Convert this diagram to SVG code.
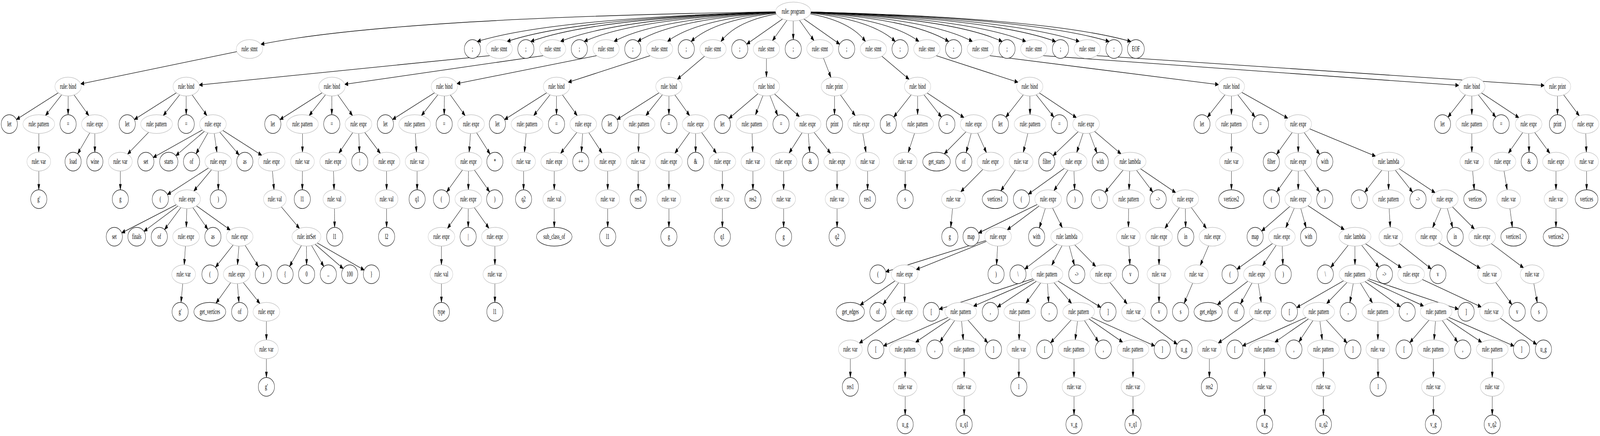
<svg xmlns="http://www.w3.org/2000/svg" width="7102" height="1115" viewBox="0 0 7102 1115" preserveAspectRatio="none" style="width:100vw;height:100vh">
<style>
.r ellipse{fill:#fff;stroke:#bcbcbc;stroke-width:1.33}
.t ellipse{fill:#fff;stroke:#000;stroke-width:1.33}
text{font-family:"Liberation Serif","Times New Roman",serif;font-size:18.67px;text-anchor:middle;fill:#000}
#edges path{fill:none;stroke:#000;stroke-width:1.33;marker-end:url(#ah)}
</style>
<defs>
<marker id="ah" markerUnits="userSpaceOnUse" markerWidth="16" markerHeight="12" refX="0" refY="0" orient="auto" overflow="visible" style="overflow:visible">
<path d="M0,0 L-14,-4.8 L-14,4.8 Z" fill="#000" stroke="#000" stroke-width="1.33"/>
</marker>
</defs>
<rect width="7102" height="1115" fill="#fff"/>
<g id="edges">
<path d="M3521,29.3 Q1748.9,44.3 1158.2,113.3"/>
<path d="M3521,29.3 Q2469.2,44.3 2118.6,106.1"/>
<path d="M3521,29.3 Q2568.4,44.3 2250.8,106.1"/>
<path d="M3521,29.3 Q2647.2,44.3 2355.9,106.1"/>
<path d="M3521,29.3 Q2746.3,44.3 2488,106.1"/>
<path d="M3521,29.3 Q2825.2,44.3 2593.2,106.1"/>
<path d="M3521,29.3 Q2924.2,44.3 2725.3,106.1"/>
<path d="M3521,29.3 Q3003.1,44.3 2830.5,106.1"/>
<path d="M3521,29.3 Q3102.3,44.3 2962.7,106.1"/>
<path d="M3521,29.3 Q3181.1,44.3 3067.8,106.1"/>
<path d="M3521,29.3 Q3280.3,44.3 3200,106.1"/>
<path d="M3521,29.3 L3314.3,112.9"/>
<path d="M3521,29.3 L3428.7,103.9"/>
<path d="M3521,29.3 L3521,101.3"/>
<path d="M3521,29.3 L3613.1,103.9"/>
<path d="M3521,29.3 L3727.4,112.9"/>
<path d="M3521,29.3 Q3761.5,44.3 3841.7,106.1"/>
<path d="M3521,29.3 Q3860.6,44.3 3973.8,106.1"/>
<path d="M3521,29.3 Q3939.5,44.3 4079,106.1"/>
<path d="M3521,29.3 Q4038.6,44.3 4211.1,106.1"/>
<path d="M3521,29.3 Q4117.5,44.3 4316.3,106.1"/>
<path d="M3521,29.3 Q4216.5,44.3 4448.4,106.1"/>
<path d="M3521,29.3 Q4295.4,44.3 4553.6,106.1"/>
<path d="M3521,29.3 Q4394.5,44.3 4685.7,106.1"/>
<path d="M3521,29.3 Q4473.4,44.3 4790.9,106.1"/>
<path d="M3521,29.3 Q4572.5,44.3 4923,106.1"/>
<path d="M3521,29.3 Q4644.9,44.3 5019.5,106.1"/>
<path d="M1107.5,125.3 L358.5,214.6"/>
<path d="M2215.7,125.3 L2173.7,142.3 L884.2,217.3"/>
<path d="M2452.9,125.3 L2410.9,142.3 L1530.4,215.7"/>
<path d="M2690.2,125.3 L2648.2,142.3 L2028,213.9"/>
<path d="M2927.6,125.3 L2885.6,142.3 L2522.3,210.4"/>
<path d="M3164.9,125.3 L3006.6,202.9"/>
<path d="M3402,125.3 L3402,197.3"/>
<path d="M3639.5,125.3 L3688.5,198.2"/>
<path d="M3876.8,125.3 L4035.4,202.9"/>
<path d="M4114.1,125.3 L4156.1,142.3 L4518.6,210.4"/>
<path d="M4351.4,125.3 L4393.4,142.3 L5408.7,216.4"/>
<path d="M4588.7,125.3 L4630.7,142.3 L6475,218.4"/>
<path d="M4826,125.3 L4868,142.3 L6854.6,218.6"/>
<path d="M302.3,221.3 L72.8,305.7"/>
<path d="M302.3,221.3 L201.7,295.5"/>
<path d="M302.3,221.3 L302.3,293.3"/>
<path d="M302.3,221.3 L394.5,295.8"/>
<path d="M826.5,221.3 L596.3,305.7"/>
<path d="M826.5,221.3 L724.7,295.6"/>
<path d="M826.5,221.3 L826.5,293.3"/>
<path d="M826.5,221.3 L918.6,295.8"/>
<path d="M1473.5,221.3 L1242.6,305.8"/>
<path d="M1473.5,221.3 L1372.3,295.5"/>
<path d="M1473.5,221.3 L1472.7,293.3"/>
<path d="M1473.5,221.3 L1564.9,295.8"/>
<path d="M1972.4,221.3 L1742.2,305.7"/>
<path d="M1972.4,221.3 L1870.6,295.6"/>
<path d="M1972.4,221.3 L1971.7,293.3"/>
<path d="M1972.4,221.3 L2064.6,295.8"/>
<path d="M2470.2,221.3 L2239.5,305.8"/>
<path d="M2470.2,221.3 L2369,295.5"/>
<path d="M2470.2,221.3 L2470.2,293.3"/>
<path d="M2470.2,221.3 L2562.3,295.8"/>
<path d="M2969.1,221.3 L2738.9,305.7"/>
<path d="M2969.1,221.3 L2866.7,295.6"/>
<path d="M2969.1,221.3 L2969.1,293.3"/>
<path d="M2969.1,221.3 L3061.2,295.8"/>
<path d="M3402,221.3 L3235.4,303.1"/>
<path d="M3402,221.3 L3353.2,293.9"/>
<path d="M3402,221.3 L3452,295.4"/>
<path d="M3402,221.3 L3548.5,298.3"/>
<path d="M3704.1,221.3 L3704.1,293.3"/>
<path d="M3704.1,221.3 L3796.2,295.8"/>
<path d="M4073,221.3 L3966.9,299.5"/>
<path d="M4073,221.3 L4073,293.3"/>
<path d="M4073,221.3 L4178.9,299.5"/>
<path d="M4073,221.3 L4278.8,300.7"/>
<path d="M4570.7,221.3 L4464.6,299.5"/>
<path d="M4570.7,221.3 L4572.2,293.3"/>
<path d="M4570.7,221.3 L4678,299.6"/>
<path d="M4570.7,221.3 L4777.9,300.8"/>
<path d="M5466,221.3 L5359.4,299.5"/>
<path d="M5466,221.3 L5466,293.3"/>
<path d="M5466,221.3 L5571,299.4"/>
<path d="M5466,221.3 L5716.2,302.3"/>
<path d="M6533.1,221.3 L6427.1,299.5"/>
<path d="M6533.1,221.3 L6533.1,293.3"/>
<path d="M6533.1,221.3 L6639.2,299.5"/>
<path d="M6533.1,221.3 L6741.9,300.9"/>
<path d="M6913.2,221.3 L6913.2,293.3"/>
<path d="M6913.2,221.3 L7010.1,296.1"/>
<path d="M172.2,317.3 L172.2,389.3"/>
<path d="M421,317.3 L344.5,393.4"/>
<path d="M421,317.3 L421,389.3"/>
<path d="M694.9,317.3 L566.2,394.2"/>
<path d="M945.1,317.3 L679.8,402.8"/>
<path d="M945.1,317.3 L780.5,398"/>
<path d="M945.1,317.3 L870,393.3"/>
<path d="M945.1,317.3 L963,389.4"/>
<path d="M945.1,317.3 L1061.5,396.2"/>
<path d="M945.1,317.3 L1161.8,397.1"/>
<path d="M1342.6,317.3 L1342.6,389.3"/>
<path d="M1591.3,317.3 L1504.2,391.6"/>
<path d="M1591.3,317.3 L1595.4,389.3"/>
<path d="M1591.3,317.3 L1688.4,392.1"/>
<path d="M1840.8,317.3 L1848.8,389.3"/>
<path d="M2091.1,317.3 L2082.5,389.3"/>
<path d="M2091.1,317.3 L2175.4,393.9"/>
<path d="M2339.3,317.3 L2327.8,389.4"/>
<path d="M2588.8,317.3 L2488.5,392.2"/>
<path d="M2588.8,317.3 L2580.7,389.4"/>
<path d="M2588.8,317.3 L2672.7,391.5"/>
<path d="M2836.7,317.3 L2833.8,389.3"/>
<path d="M3087.7,317.3 L2995.6,391.8"/>
<path d="M3087.7,317.3 L3087.7,389.3"/>
<path d="M3087.7,317.3 L3179.9,391.8"/>
<path d="M3337.5,317.3 L3340.9,389.3"/>
<path d="M3584.7,317.3 L3502.6,391.4"/>
<path d="M3584.7,317.3 L3593.9,389.4"/>
<path d="M3584.7,317.3 L3686.9,392.3"/>
<path d="M3822.7,317.3 L3844,389.5"/>
<path d="M4073,317.3 L4031.2,390.1"/>
<path d="M4321.7,317.3 L4191.3,393.4"/>
<path d="M4321.7,317.3 L4288.5,390.3"/>
<path d="M4321.7,317.3 L4378.8,390.4"/>
<path d="M4572.2,317.3 L4542.2,389.7"/>
<path d="M4820.9,317.3 L4674.2,398"/>
<path d="M4820.9,317.3 L4779.2,389.9"/>
<path d="M4820.9,317.3 L4869.3,391.3"/>
<path d="M4820.9,317.3 L4975.8,393.5"/>
<path d="M5466,317.3 L5466,389.3"/>
<path d="M5762.5,317.3 L5666.1,394.8"/>
<path d="M5762.5,317.3 L5762.5,389.3"/>
<path d="M5762.5,317.3 L5857.6,394.7"/>
<path d="M5762.5,317.3 L6105.6,399.4"/>
<path d="M6533.1,317.3 L6533.1,389.3"/>
<path d="M6785.1,317.3 L6695.2,391.7"/>
<path d="M6785.1,317.3 L6787.2,389.3"/>
<path d="M6785.1,317.3 L6879.5,391.9"/>
<path d="M7037.7,317.3 L7041.4,389.3"/>
<path d="M172.2,413.3 L172.2,485.3"/>
<path d="M534.2,413.3 L534.2,485.3"/>
<path d="M968.9,413.3 L743.1,497.6"/>
<path d="M968.9,413.3 L860.2,488.6"/>
<path d="M968.9,413.3 L968.9,485.3"/>
<path d="M1205.6,413.3 L1216.4,485.4"/>
<path d="M1342.6,413.3 L1341.8,485.3"/>
<path d="M1478.8,413.3 L1482.9,485.3"/>
<path d="M1716,413.3 L1716,485.3"/>
<path d="M1851.5,413.3 L1851.5,485.3"/>
<path d="M2079.6,413.3 L1982.5,490.9"/>
<path d="M2079.6,413.3 L2078.8,485.3"/>
<path d="M2079.6,413.3 L2173.3,490.6"/>
<path d="M2324,413.3 L2324,485.3"/>
<path d="M2460.2,413.3 L2460.2,485.3"/>
<path d="M2697.4,413.3 L2697.4,485.3"/>
<path d="M2832.9,413.3 L2832.9,485.3"/>
<path d="M2969.1,413.3 L2969.1,485.3"/>
<path d="M3206.4,413.3 L3206.4,485.3"/>
<path d="M3342,413.3 L3342,485.3"/>
<path d="M3478.3,413.3 L3478.3,485.3"/>
<path d="M3715.6,413.3 L3715.6,485.3"/>
<path d="M3851,413.3 L3851,485.3"/>
<path d="M4017.8,413.3 L4017.8,485.3"/>
<path d="M4396.7,413.3 L4264.6,490.4"/>
<path d="M4532.4,413.3 L4442.4,487.9"/>
<path d="M4765.8,413.3 L4564.5,496.6"/>
<path d="M4765.8,413.3 L4678.1,487.6"/>
<path d="M4765.8,413.3 L4770,485.3"/>
<path d="M5016,413.3 L4904.5,491.9"/>
<path d="M5016,413.3 L5011.4,485.3"/>
<path d="M5016,413.3 L5117.2,491.2"/>
<path d="M5016,413.3 L5218.4,492.6"/>
<path d="M5466,413.3 L5466,485.3"/>
<path d="M5762.5,413.3 L5666.8,490.8"/>
<path d="M5762.5,413.3 L5762.5,485.3"/>
<path d="M5762.5,413.3 L5857.6,490.7"/>
<path d="M6163.5,413.3 L6057.5,491.5"/>
<path d="M6163.5,413.3 L6163.5,485.3"/>
<path d="M6163.5,413.3 L6270.2,491.5"/>
<path d="M6163.5,413.3 L6370,492.8"/>
<path d="M6533.1,413.3 L6543.9,485.4"/>
<path d="M6669.1,413.3 L6690,485.5"/>
<path d="M6906.5,413.3 L6906.5,485.3"/>
<path d="M7042.6,413.3 L7042.6,485.3"/>
<path d="M830.3,509.3 L540.3,595.5"/>
<path d="M830.3,509.3 L639.1,591.5"/>
<path d="M830.3,509.3 L730.5,587.1"/>
<path d="M830.3,509.3 L826.9,581.3"/>
<path d="M830.3,509.3 L922.7,586.5"/>
<path d="M830.3,509.3 L1022.2,588.2"/>
<path d="M1220,509.3 L1329.4,584.2"/>
<path d="M1484.2,509.3 L1485.3,581.3"/>
<path d="M1716,509.3 L1716,581.3"/>
<path d="M2078.8,509.3 L1986.1,583.9"/>
<path d="M2078.8,509.3 L2078.2,581.3"/>
<path d="M2078.8,509.3 L2170.3,583.8"/>
<path d="M2460.2,509.3 L2460.2,581.3"/>
<path d="M2697.4,509.3 L2697.4,581.3"/>
<path d="M2969.1,509.3 L2969.1,581.3"/>
<path d="M3206.4,509.3 L3206.4,581.3"/>
<path d="M3478.3,509.3 L3478.3,581.3"/>
<path d="M3715.6,509.3 L3715.6,581.3"/>
<path d="M4232.1,509.3 L4220,581.4"/>
<path d="M4652.5,509.3 L4343.4,596"/>
<path d="M4652.5,509.3 L4470.9,587.8"/>
<path d="M4652.5,509.3 L4613.4,582.7"/>
<path d="M4652.5,509.3 L4715.4,582.3"/>
<path d="M5009.9,509.3 L5008.8,581.3"/>
<path d="M5261,509.3 L5170.7,583.8"/>
<path d="M5261,509.3 L5262.7,581.3"/>
<path d="M5261,509.3 L5355,583.9"/>
<path d="M5762.5,509.3 L5600,590.9"/>
<path d="M5762.5,509.3 L5707.2,582.4"/>
<path d="M5762.5,509.3 L5797.5,582.4"/>
<path d="M5762.5,509.3 L5967.2,587.3"/>
<path d="M6163.5,509.3 L6171,581.3"/>
<path d="M6413,509.3 L6358.9,582.3"/>
<path d="M6413,509.3 L6448.3,582.5"/>
<path d="M6413,509.3 L6544.8,585.6"/>
<path d="M6696.9,509.3 L6713,581.4"/>
<path d="M6906.5,509.3 L6906.5,581.3"/>
<path d="M825.8,605.3 L817.7,677.3"/>
<path d="M1063.8,605.3 L956.4,683.6"/>
<path d="M1063.8,605.3 L1054,677.3"/>
<path d="M1063.8,605.3 L1147.4,681.9"/>
<path d="M1360.2,605.3 L1285.1,681.3"/>
<path d="M1360.2,605.3 L1361,677.3"/>
<path d="M1360.2,605.3 L1437.3,681.4"/>
<path d="M1360.2,605.3 L1523.5,686.9"/>
<path d="M1360.2,605.3 L1616.5,690.6"/>
<path d="M1959.4,605.3 L1959.4,677.3"/>
<path d="M2196.7,605.3 L2196.7,677.3"/>
<path d="M4430.3,605.3 L3931.7,695"/>
<path d="M4430.3,605.3 L4067,689.4"/>
<path d="M4430.3,605.3 L4423.5,677.3"/>
<path d="M4735.2,605.3 L4548.6,688"/>
<path d="M4735.2,605.3 L4668.2,678.4"/>
<path d="M4735.2,605.3 L4769,678.4"/>
<path d="M4735.2,605.3 L4863.9,681.5"/>
<path d="M5008.4,605.3 L5015.3,677.3"/>
<path d="M5144.6,605.3 L5144.6,677.3"/>
<path d="M5381.9,605.3 L5327.6,678.6"/>
<path d="M5689.8,605.3 L5490.4,688.6"/>
<path d="M5689.8,605.3 L5603.9,679.6"/>
<path d="M5689.8,605.3 L5694.4,677.3"/>
<path d="M6014.3,605.3 L5906.9,683.6"/>
<path d="M6014.3,605.3 L6014.3,677.3"/>
<path d="M6014.3,605.3 L6120.9,683.5"/>
<path d="M6014.3,605.3 L6220.8,684.8"/>
<path d="M6173.5,605.3 L6352.8,687.7"/>
<path d="M6341.8,605.3 L6570.9,686.5"/>
<path d="M6578.8,605.3 L6762.5,684.8"/>
<path d="M815,701.3 L803.5,773.3"/>
<path d="M1050.7,701.3 L958.9,775.2"/>
<path d="M1050.7,701.3 L1060.5,773.3"/>
<path d="M1050.7,701.3 L1153.7,776.3"/>
<path d="M1959.4,701.3 L1959.4,773.3"/>
<path d="M2196.7,701.3 L2196.7,773.3"/>
<path d="M4015.5,701.3 L3818,780"/>
<path d="M4015.5,701.3 L3919.8,778.8"/>
<path d="M4015.5,701.3 L4015.5,773.3"/>
<path d="M4647.2,701.3 L4168.9,790.8"/>
<path d="M4647.2,701.3 L4321.1,783.1"/>
<path d="M4647.2,701.3 L4427.1,785.4"/>
<path d="M4647.2,701.3 L4554.1,775.2"/>
<path d="M4647.2,701.3 L4654.6,773.3"/>
<path d="M4647.2,701.3 L4756.5,775.8"/>
<path d="M4647.2,701.3 L4886.3,786"/>
<path d="M4897.4,701.3 L5003.1,777"/>
<path d="M5144.6,701.3 L5144.6,773.3"/>
<path d="M5310.7,701.3 L5256.1,775.7"/>
<path d="M5578.8,701.3 L5403.7,779.1"/>
<path d="M5578.8,701.3 L5506.1,777.1"/>
<path d="M5578.8,701.3 L5598.3,773.4"/>
<path d="M6014.3,701.3 L5755.8,786.7"/>
<path d="M6014.3,701.3 L5888.5,776.4"/>
<path d="M6014.3,701.3 L5991.7,773.8"/>
<path d="M6014.3,701.3 L6092.2,774.7"/>
<path d="M6014.3,701.3 L6215.6,784.6"/>
<path d="M6014.3,701.3 L6319.2,782.5"/>
<path d="M6014.3,701.3 L6473.3,790.6"/>
<path d="M6263.8,701.3 L6575,785.1"/>
<path d="M6612.5,701.3 L6711.2,779"/>
<path d="M6800.8,701.3 L6823.5,773.8"/>
<path d="M1182.5,797.3 L1182.5,869.3"/>
<path d="M4015.5,797.3 L3814.2,877.5"/>
<path d="M4264.3,797.3 L3921.3,884.7"/>
<path d="M4264.3,797.3 L4064.2,875.2"/>
<path d="M4264.3,797.3 L4171.9,874.5"/>
<path d="M4264.3,797.3 L4275.8,869.4"/>
<path d="M4264.3,797.3 L4384.1,876.4"/>
<path d="M4526.3,797.3 L4523.4,869.3"/>
<path d="M4788,797.3 L4663.2,876.7"/>
<path d="M4788,797.3 L4772.5,869.4"/>
<path d="M4788,797.3 L4875.6,874.2"/>
<path d="M4788,797.3 L4983.3,875.1"/>
<path d="M4788,797.3 L5125.6,884.6"/>
<path d="M5031.4,797.3 L5225.3,880.3"/>
<path d="M5604.8,797.3 L5407.5,877.3"/>
<path d="M5853.6,797.3 L5515,884.6"/>
<path d="M5853.6,797.3 L5659,875"/>
<path d="M5853.6,797.3 L5765.3,874.2"/>
<path d="M5853.6,797.3 L5869.1,869.4"/>
<path d="M5853.6,797.3 L5979,876.8"/>
<path d="M6116.1,797.3 L6116.1,869.3"/>
<path d="M6374.7,797.3 L6257.7,876.2"/>
<path d="M6374.7,797.3 L6365.5,869.3"/>
<path d="M6374.7,797.3 L6469.8,874.7"/>
<path d="M6374.7,797.3 L6577,875.3"/>
<path d="M6374.7,797.3 L6720.1,884.8"/>
<path d="M6620.4,797.3 L6820.5,880.6"/>
<path d="M1182.5,893.3 L1182.5,965.3"/>
<path d="M3774.5,893.3 L3774.5,965.3"/>
<path d="M4017.8,893.3 L4017.8,965.3"/>
<path d="M4279.6,893.3 L4279.6,965.3"/>
<path d="M4522.4,893.3 L4522.4,965.3"/>
<path d="M4767.3,893.3 L4767.3,965.3"/>
<path d="M5029.1,893.3 L5029.1,965.3"/>
<path d="M5368.1,893.3 L5368.1,965.3"/>
<path d="M5613.3,893.3 L5613.3,965.3"/>
<path d="M5874.2,893.3 L5874.2,965.3"/>
<path d="M6116.1,893.3 L6117,965.3"/>
<path d="M6362.5,893.3 L6362.5,965.3"/>
<path d="M6623.7,893.3 L6623.7,965.3"/>
<path d="M4017.8,989.3 L4017.8,1061.3"/>
<path d="M4279.6,989.3 L4279.6,1061.3"/>
<path d="M4767.3,989.3 L4767.3,1061.3"/>
<path d="M5029.1,989.3 L5029.1,1061.3"/>
<path d="M5613.3,989.3 L5613.3,1061.3"/>
<path d="M5874.2,989.3 L5874.2,1061.3"/>
<path d="M6362.5,989.3 L6362.5,1061.3"/>
<path d="M6623.7,989.3 L6623.7,1061.3"/>
</g>
<g id="root" class="r" transform="translate(3521,29.3)"><ellipse rx="78.3" ry="24"/><text y="6">rule: program</text></g>
<g id="s1" class="r" transform="translate(1107.5,125.3)"><ellipse rx="58.5" ry="24"/><text y="6">rule: stmt</text></g>
<g id="c1" class="t" transform="translate(2097,125.3)"><ellipse rx="36" ry="24"/><text y="6">;</text></g>
<g id="s2" class="r" transform="translate(2215.7,125.3)"><ellipse rx="58.5" ry="24"/><text y="6">rule: stmt</text></g>
<g id="c2" class="t" transform="translate(2334.3,125.3)"><ellipse rx="36" ry="24"/><text y="6">;</text></g>
<g id="s3" class="r" transform="translate(2452.9,125.3)"><ellipse rx="58.5" ry="24"/><text y="6">rule: stmt</text></g>
<g id="c3" class="t" transform="translate(2571.6,125.3)"><ellipse rx="36" ry="24"/><text y="6">;</text></g>
<g id="s4" class="r" transform="translate(2690.2,125.3)"><ellipse rx="58.5" ry="24"/><text y="6">rule: stmt</text></g>
<g id="c4" class="t" transform="translate(2808.9,125.3)"><ellipse rx="36" ry="24"/><text y="6">;</text></g>
<g id="s5" class="r" transform="translate(2927.6,125.3)"><ellipse rx="58.5" ry="24"/><text y="6">rule: stmt</text></g>
<g id="c5" class="t" transform="translate(3046.2,125.3)"><ellipse rx="36" ry="24"/><text y="6">;</text></g>
<g id="s6" class="r" transform="translate(3164.9,125.3)"><ellipse rx="58.5" ry="24"/><text y="6">rule: stmt</text></g>
<g id="c6" class="t" transform="translate(3283.5,125.3)"><ellipse rx="36" ry="24"/><text y="6">;</text></g>
<g id="s7" class="r" transform="translate(3402,125.3)"><ellipse rx="58.5" ry="24"/><text y="6">rule: stmt</text></g>
<g id="c7" class="t" transform="translate(3521,125.3)"><ellipse rx="36" ry="24"/><text y="6">;</text></g>
<g id="s8" class="r" transform="translate(3639.5,125.3)"><ellipse rx="58.5" ry="24"/><text y="6">rule: stmt</text></g>
<g id="c8" class="t" transform="translate(3758.1,125.3)"><ellipse rx="36" ry="24"/><text y="6">;</text></g>
<g id="s9" class="r" transform="translate(3876.8,125.3)"><ellipse rx="58.5" ry="24"/><text y="6">rule: stmt</text></g>
<g id="c9" class="t" transform="translate(3995.4,125.3)"><ellipse rx="36" ry="24"/><text y="6">;</text></g>
<g id="s10" class="r" transform="translate(4114.1,125.3)"><ellipse rx="58.5" ry="24"/><text y="6">rule: stmt</text></g>
<g id="c10" class="t" transform="translate(4232.7,125.3)"><ellipse rx="36" ry="24"/><text y="6">;</text></g>
<g id="s11" class="r" transform="translate(4351.4,125.3)"><ellipse rx="58.5" ry="24"/><text y="6">rule: stmt</text></g>
<g id="c11" class="t" transform="translate(4470,125.3)"><ellipse rx="36" ry="24"/><text y="6">;</text></g>
<g id="s12" class="r" transform="translate(4588.7,125.3)"><ellipse rx="58.5" ry="24"/><text y="6">rule: stmt</text></g>
<g id="c12" class="t" transform="translate(4707.3,125.3)"><ellipse rx="36" ry="24"/><text y="6">;</text></g>
<g id="s13" class="r" transform="translate(4826,125.3)"><ellipse rx="58.5" ry="24"/><text y="6">rule: stmt</text></g>
<g id="c13" class="t" transform="translate(4944.6,125.3)"><ellipse rx="36" ry="24"/><text y="6">;</text></g>
<g id="eof" class="t" transform="translate(5042,125.3)"><ellipse rx="37.5" ry="24"/><text y="6">EOF</text></g>
<g id="a" class="r" transform="translate(302.3,221.3)"><ellipse rx="58.5" ry="24"/><text y="6">rule: bind</text></g>
<g id="b" class="r" transform="translate(826.5,221.3)"><ellipse rx="58.5" ry="24"/><text y="6">rule: bind</text></g>
<g id="c" class="r" transform="translate(1473.5,221.3)"><ellipse rx="58.5" ry="24"/><text y="6">rule: bind</text></g>
<g id="d" class="r" transform="translate(1972.4,221.3)"><ellipse rx="58.5" ry="24"/><text y="6">rule: bind</text></g>
<g id="e" class="r" transform="translate(2470.2,221.3)"><ellipse rx="58.5" ry="24"/><text y="6">rule: bind</text></g>
<g id="f" class="r" transform="translate(2969.1,221.3)"><ellipse rx="58.5" ry="24"/><text y="6">rule: bind</text></g>
<g id="g" class="r" transform="translate(3402,221.3)"><ellipse rx="58.5" ry="24"/><text y="6">rule: bind</text></g>
<g id="p1" class="r" transform="translate(3704.1,221.3)"><ellipse rx="59" ry="24"/><text y="6">rule: print</text></g>
<g id="h9" class="r" transform="translate(4073,221.3)"><ellipse rx="58.5" ry="24"/><text y="6">rule: bind</text></g>
<g id="h" class="r" transform="translate(4570.7,221.3)"><ellipse rx="58.5" ry="24"/><text y="6">rule: bind</text></g>
<g id="i" class="r" transform="translate(5466,221.3)"><ellipse rx="58.5" ry="24"/><text y="6">rule: bind</text></g>
<g id="j" class="r" transform="translate(6533.1,221.3)"><ellipse rx="58.5" ry="24"/><text y="6">rule: bind</text></g>
<g id="p2" class="r" transform="translate(6913.2,221.3)"><ellipse rx="59" ry="24"/><text y="6">rule: print</text></g>
<g id="a1" class="t" transform="translate(41.3,317.3)"><ellipse rx="36" ry="24"/><text y="6">let</text></g>
<g id="a2" class="r" transform="translate(172.2,317.3)"><ellipse rx="70.5" ry="24"/><text y="6">rule: pattern</text></g>
<g id="a3" class="t" transform="translate(302.3,317.3)"><ellipse rx="36" ry="24"/><text y="6">=</text></g>
<g id="a4" class="r" transform="translate(421,317.3)"><ellipse rx="59.3" ry="24"/><text y="6">rule: expr</text></g>
<g id="b1" class="t" transform="translate(564.8,317.3)"><ellipse rx="36" ry="24"/><text y="6">let</text></g>
<g id="b2" class="r" transform="translate(694.9,317.3)"><ellipse rx="70.5" ry="24"/><text y="6">rule: pattern</text></g>
<g id="b3" class="t" transform="translate(826.5,317.3)"><ellipse rx="36" ry="24"/><text y="6">=</text></g>
<g id="b4" class="r" transform="translate(945.1,317.3)"><ellipse rx="59.3" ry="24"/><text y="6">rule: expr</text></g>
<g id="c_1" class="t" transform="translate(1211,317.3)"><ellipse rx="36" ry="24"/><text y="6">let</text></g>
<g id="c_2" class="r" transform="translate(1342.6,317.3)"><ellipse rx="70.5" ry="24"/><text y="6">rule: pattern</text></g>
<g id="c_3" class="t" transform="translate(1472.7,317.3)"><ellipse rx="36" ry="24"/><text y="6">=</text></g>
<g id="c_4" class="r" transform="translate(1591.3,317.3)"><ellipse rx="59.3" ry="24"/><text y="6">rule: expr</text></g>
<g id="d1" class="t" transform="translate(1710.7,317.3)"><ellipse rx="36" ry="24"/><text y="6">let</text></g>
<g id="d2" class="r" transform="translate(1840.8,317.3)"><ellipse rx="70.5" ry="24"/><text y="6">rule: pattern</text></g>
<g id="d3" class="t" transform="translate(1971.7,317.3)"><ellipse rx="36" ry="24"/><text y="6">=</text></g>
<g id="d4" class="r" transform="translate(2091.1,317.3)"><ellipse rx="59.3" ry="24"/><text y="6">rule: expr</text></g>
<g id="e1" class="t" transform="translate(2208,317.3)"><ellipse rx="36" ry="24"/><text y="6">let</text></g>
<g id="e2" class="r" transform="translate(2339.3,317.3)"><ellipse rx="70.5" ry="24"/><text y="6">rule: pattern</text></g>
<g id="e3" class="t" transform="translate(2470.2,317.3)"><ellipse rx="36" ry="24"/><text y="6">=</text></g>
<g id="e4" class="r" transform="translate(2588.8,317.3)"><ellipse rx="59.3" ry="24"/><text y="6">rule: expr</text></g>
<g id="f1" class="t" transform="translate(2707.4,317.3)"><ellipse rx="36" ry="24"/><text y="6">let</text></g>
<g id="f2" class="r" transform="translate(2836.7,317.3)"><ellipse rx="70.5" ry="24"/><text y="6">rule: pattern</text></g>
<g id="f3" class="t" transform="translate(2969.1,317.3)"><ellipse rx="36" ry="24"/><text y="6">=</text></g>
<g id="f4" class="r" transform="translate(3087.7,317.3)"><ellipse rx="59.3" ry="24"/><text y="6">rule: expr</text></g>
<g id="g1" class="t" transform="translate(3206.4,317.3)"><ellipse rx="36" ry="24"/><text y="6">let</text></g>
<g id="g2" class="r" transform="translate(3337.5,317.3)"><ellipse rx="70.5" ry="24"/><text y="6">rule: pattern</text></g>
<g id="g3" class="t" transform="translate(3466.8,317.3)"><ellipse rx="36" ry="24"/><text y="6">=</text></g>
<g id="g4" class="r" transform="translate(3584.7,317.3)"><ellipse rx="59.3" ry="24"/><text y="6">rule: expr</text></g>
<g id="p1a" class="t" transform="translate(3704.1,317.3)"><ellipse rx="36" ry="24"/><text y="6">print</text></g>
<g id="p1b" class="r" transform="translate(3822.7,317.3)"><ellipse rx="59.3" ry="24"/><text y="6">rule: expr</text></g>
<g id="h9a" class="t" transform="translate(3942.8,317.3)"><ellipse rx="36" ry="24"/><text y="6">let</text></g>
<g id="h9b" class="r" transform="translate(4073,317.3)"><ellipse rx="70.5" ry="24"/><text y="6">rule: pattern</text></g>
<g id="h9c" class="t" transform="translate(4203,317.3)"><ellipse rx="36" ry="24"/><text y="6">=</text></g>
<g id="h9d" class="r" transform="translate(4321.7,317.3)"><ellipse rx="59.3" ry="24"/><text y="6">rule: expr</text></g>
<g id="ha" class="t" transform="translate(4440.5,317.3)"><ellipse rx="36" ry="24"/><text y="6">let</text></g>
<g id="hb" class="r" transform="translate(4572.2,317.3)"><ellipse rx="70.5" ry="24"/><text y="6">rule: pattern</text></g>
<g id="hc" class="t" transform="translate(4702.3,317.3)"><ellipse rx="36" ry="24"/><text y="6">=</text></g>
<g id="hd" class="r" transform="translate(4820.9,317.3)"><ellipse rx="59.3" ry="24"/><text y="6">rule: expr</text></g>
<g id="ia" class="t" transform="translate(5335.2,317.3)"><ellipse rx="36" ry="24"/><text y="6">let</text></g>
<g id="ib" class="r" transform="translate(5466,317.3)"><ellipse rx="70.5" ry="24"/><text y="6">rule: pattern</text></g>
<g id="ic" class="t" transform="translate(5595,317.3)"><ellipse rx="36" ry="24"/><text y="6">=</text></g>
<g id="id" class="r" transform="translate(5762.5,317.3)"><ellipse rx="59.3" ry="24"/><text y="6">rule: expr</text></g>
<g id="ja" class="t" transform="translate(6403,317.3)"><ellipse rx="36" ry="24"/><text y="6">let</text></g>
<g id="jb" class="r" transform="translate(6533.1,317.3)"><ellipse rx="70.5" ry="24"/><text y="6">rule: pattern</text></g>
<g id="jc" class="t" transform="translate(6663.3,317.3)"><ellipse rx="36" ry="24"/><text y="6">=</text></g>
<g id="jd" class="r" transform="translate(6785.1,317.3)"><ellipse rx="59.3" ry="24"/><text y="6">rule: expr</text></g>
<g id="p2a" class="t" transform="translate(6913.2,317.3)"><ellipse rx="36" ry="24"/><text y="6">print</text></g>
<g id="p2b" class="r" transform="translate(7037.7,317.3)"><ellipse rx="59.3" ry="24"/><text y="6">rule: expr</text></g>
<g id="a5" class="r" transform="translate(172.2,413.3)"><ellipse rx="52.8" ry="24"/><text y="6">rule: var</text></g>
<g id="a6" class="t" transform="translate(324.5,413.3)"><ellipse rx="36" ry="24"/><text y="6">load</text></g>
<g id="a7" class="t" transform="translate(421,413.3)"><ellipse rx="36" ry="24"/><text y="6">wine</text></g>
<g id="b5" class="r" transform="translate(534.2,413.3)"><ellipse rx="52.8" ry="24"/><text y="6">rule: var</text></g>
<g id="b6" class="t" transform="translate(647.4,413.3)"><ellipse rx="36" ry="24"/><text y="6">set</text></g>
<g id="b7" class="t" transform="translate(749.2,413.3)"><ellipse rx="40.6" ry="24"/><text y="6">starts</text></g>
<g id="b8" class="t" transform="translate(850.2,413.3)"><ellipse rx="36" ry="24"/><text y="6">of</text></g>
<g id="b9" class="r" transform="translate(968.9,413.3)"><ellipse rx="59.3" ry="24"/><text y="6">rule: expr</text></g>
<g id="b10" class="t" transform="translate(1086.7,413.3)"><ellipse rx="36" ry="24"/><text y="6">as</text></g>
<g id="b11" class="r" transform="translate(1205.6,413.3)"><ellipse rx="59.3" ry="24"/><text y="6">rule: expr</text></g>
<g id="c5x" class="r" transform="translate(1342.6,413.3)"><ellipse rx="52.8" ry="24"/><text y="6">rule: var</text></g>
<g id="c6x" class="r" transform="translate(1478.8,413.3)"><ellipse rx="59.3" ry="24"/><text y="6">rule: expr</text></g>
<g id="c7x" class="t" transform="translate(1596.7,413.3)"><ellipse rx="36" ry="24"/><text y="6">|</text></g>
<g id="c8x" class="r" transform="translate(1716,413.3)"><ellipse rx="59.3" ry="24"/><text y="6">rule: expr</text></g>
<g id="d5" class="r" transform="translate(1851.5,413.3)"><ellipse rx="52.8" ry="24"/><text y="6">rule: var</text></g>
<g id="d6" class="r" transform="translate(2079.6,413.3)"><ellipse rx="59.3" ry="24"/><text y="6">rule: expr</text></g>
<g id="d7" class="t" transform="translate(2196.7,413.3)"><ellipse rx="36" ry="24"/><text y="6">*</text></g>
<g id="e5" class="r" transform="translate(2324,413.3)"><ellipse rx="52.8" ry="24"/><text y="6">rule: var</text></g>
<g id="e6" class="r" transform="translate(2460.2,413.3)"><ellipse rx="59.3" ry="24"/><text y="6">rule: expr</text></g>
<g id="e7" class="t" transform="translate(2578,413.3)"><ellipse rx="36" ry="24"/><text y="6">++</text></g>
<g id="e8" class="r" transform="translate(2697.4,413.3)"><ellipse rx="59.3" ry="24"/><text y="6">rule: expr</text></g>
<g id="f5" class="r" transform="translate(2832.9,413.3)"><ellipse rx="52.8" ry="24"/><text y="6">rule: var</text></g>
<g id="f6" class="r" transform="translate(2969.1,413.3)"><ellipse rx="59.3" ry="24"/><text y="6">rule: expr</text></g>
<g id="f7" class="t" transform="translate(3087.7,413.3)"><ellipse rx="36" ry="24"/><text y="6">&amp;</text></g>
<g id="f8" class="r" transform="translate(3206.4,413.3)"><ellipse rx="59.3" ry="24"/><text y="6">rule: expr</text></g>
<g id="g5" class="r" transform="translate(3342,413.3)"><ellipse rx="52.8" ry="24"/><text y="6">rule: var</text></g>
<g id="g6" class="r" transform="translate(3478.3,413.3)"><ellipse rx="59.3" ry="24"/><text y="6">rule: expr</text></g>
<g id="g7" class="t" transform="translate(3597,413.3)"><ellipse rx="36" ry="24"/><text y="6">&amp;</text></g>
<g id="g8" class="r" transform="translate(3715.6,413.3)"><ellipse rx="59.3" ry="24"/><text y="6">rule: expr</text></g>
<g id="p1c" class="r" transform="translate(3851,413.3)"><ellipse rx="52.8" ry="24"/><text y="6">rule: var</text></g>
<g id="h9e" class="r" transform="translate(4017.8,413.3)"><ellipse rx="52.8" ry="24"/><text y="6">rule: var</text></g>
<g id="h9f" class="t" transform="translate(4157.1,413.3)"><ellipse rx="61.2" ry="24"/><text y="6">get_starts</text></g>
<g id="h9g" class="t" transform="translate(4278,413.3)"><ellipse rx="36" ry="24"/><text y="6">of</text></g>
<g id="h9h" class="r" transform="translate(4396.7,413.3)"><ellipse rx="59.3" ry="24"/><text y="6">rule: expr</text></g>
<g id="he" class="r" transform="translate(4532.4,413.3)"><ellipse rx="52.8" ry="24"/><text y="6">rule: var</text></g>
<g id="hf" class="t" transform="translate(4646.4,413.3)"><ellipse rx="36" ry="24"/><text y="6">filter</text></g>
<g id="hg" class="r" transform="translate(4765.8,413.3)"><ellipse rx="59.3" ry="24"/><text y="6">rule: expr</text></g>
<g id="hh" class="t" transform="translate(4883.7,413.3)"><ellipse rx="36" ry="24"/><text y="6">with</text></g>
<g id="hi" class="r" transform="translate(5016,413.3)"><ellipse rx="71" ry="24"/><text y="6">rule: lambda</text></g>
<g id="ie" class="r" transform="translate(5466,413.3)"><ellipse rx="52.8" ry="24"/><text y="6">rule: var</text></g>
<g id="if" class="t" transform="translate(5643.1,413.3)"><ellipse rx="36" ry="24"/><text y="6">filter</text></g>
<g id="ig" class="r" transform="translate(5762.5,413.3)"><ellipse rx="59.3" ry="24"/><text y="6">rule: expr</text></g>
<g id="ih" class="t" transform="translate(5880.4,413.3)"><ellipse rx="36" ry="24"/><text y="6">with</text></g>
<g id="ii" class="r" transform="translate(6163.5,413.3)"><ellipse rx="71" ry="24"/><text y="6">rule: lambda</text></g>
<g id="je" class="r" transform="translate(6533.1,413.3)"><ellipse rx="52.8" ry="24"/><text y="6">rule: var</text></g>
<g id="jf" class="r" transform="translate(6669.1,413.3)"><ellipse rx="59.3" ry="24"/><text y="6">rule: expr</text></g>
<g id="jg" class="t" transform="translate(6787.8,413.3)"><ellipse rx="36" ry="24"/><text y="6">&amp;</text></g>
<g id="jh" class="r" transform="translate(6906.5,413.3)"><ellipse rx="59.3" ry="24"/><text y="6">rule: expr</text></g>
<g id="p2c" class="r" transform="translate(7042.6,413.3)"><ellipse rx="52.8" ry="24"/><text y="6">rule: var</text></g>
<g id="a8" class="t" transform="translate(172.2,509.3)"><ellipse rx="36" ry="24"/><text y="6">g'</text></g>
<g id="b12" class="t" transform="translate(534.2,509.3)"><ellipse rx="36" ry="24"/><text y="6">g</text></g>
<g id="b13" class="t" transform="translate(711.7,509.3)"><ellipse rx="36" ry="24"/><text y="6">(</text></g>
<g id="b14" class="r" transform="translate(830.3,509.3)"><ellipse rx="59.3" ry="24"/><text y="6">rule: expr</text></g>
<g id="b15" class="t" transform="translate(968.9,509.3)"><ellipse rx="36" ry="24"/><text y="6">)</text></g>
<g id="b16" class="r" transform="translate(1220,509.3)"><ellipse rx="50.5" ry="24"/><text y="6">rule: val</text></g>
<g id="c9x" class="t" transform="translate(1341.8,509.3)"><ellipse rx="36" ry="24"/><text y="6">l1</text></g>
<g id="c10x" class="r" transform="translate(1484.2,509.3)"><ellipse rx="50.5" ry="24"/><text y="6">rule: val</text></g>
<g id="c11x" class="r" transform="translate(1716,509.3)"><ellipse rx="50.5" ry="24"/><text y="6">rule: val</text></g>
<g id="d8" class="t" transform="translate(1851.5,509.3)"><ellipse rx="36" ry="24"/><text y="6">q1</text></g>
<g id="d9" class="t" transform="translate(1959.4,509.3)"><ellipse rx="36" ry="24"/><text y="6">(</text></g>
<g id="d10" class="r" transform="translate(2078.8,509.3)"><ellipse rx="59.3" ry="24"/><text y="6">rule: expr</text></g>
<g id="d11" class="t" transform="translate(2195.9,509.3)"><ellipse rx="36" ry="24"/><text y="6">)</text></g>
<g id="e9" class="t" transform="translate(2324,509.3)"><ellipse rx="36" ry="24"/><text y="6">q2</text></g>
<g id="e10" class="r" transform="translate(2460.2,509.3)"><ellipse rx="50.5" ry="24"/><text y="6">rule: val</text></g>
<g id="e11" class="r" transform="translate(2697.4,509.3)"><ellipse rx="52.8" ry="24"/><text y="6">rule: var</text></g>
<g id="f9" class="t" transform="translate(2832.9,509.3)"><ellipse rx="36" ry="24"/><text y="6">res1</text></g>
<g id="f10" class="r" transform="translate(2969.1,509.3)"><ellipse rx="52.8" ry="24"/><text y="6">rule: var</text></g>
<g id="f11" class="r" transform="translate(3206.4,509.3)"><ellipse rx="52.8" ry="24"/><text y="6">rule: var</text></g>
<g id="g9" class="t" transform="translate(3342,509.3)"><ellipse rx="36" ry="24"/><text y="6">res2</text></g>
<g id="g10" class="r" transform="translate(3478.3,509.3)"><ellipse rx="52.8" ry="24"/><text y="6">rule: var</text></g>
<g id="g11" class="r" transform="translate(3715.6,509.3)"><ellipse rx="52.8" ry="24"/><text y="6">rule: var</text></g>
<g id="p1d" class="t" transform="translate(3851,509.3)"><ellipse rx="36" ry="24"/><text y="6">res1</text></g>
<g id="h9i" class="t" transform="translate(4017.8,509.3)"><ellipse rx="36" ry="24"/><text y="6">s</text></g>
<g id="h9j" class="r" transform="translate(4232.1,509.3)"><ellipse rx="52.8" ry="24"/><text y="6">rule: var</text></g>
<g id="hj" class="t" transform="translate(4416.6,509.3)"><ellipse rx="56.6" ry="24"/><text y="6">vertices1</text></g>
<g id="hk" class="t" transform="translate(4533.9,509.3)"><ellipse rx="36" ry="24"/><text y="6">(</text></g>
<g id="hl" class="r" transform="translate(4652.5,509.3)"><ellipse rx="59.3" ry="24"/><text y="6">rule: expr</text></g>
<g id="hm" class="t" transform="translate(4771.2,509.3)"><ellipse rx="36" ry="24"/><text y="6">)</text></g>
<g id="hn" class="t" transform="translate(4879.8,509.3)"><ellipse rx="36" ry="24"/><text y="6">\</text></g>
<g id="ho" class="r" transform="translate(5009.9,509.3)"><ellipse rx="70.5" ry="24"/><text y="6">rule: pattern</text></g>
<g id="hp" class="t" transform="translate(5140.8,509.3)"><ellipse rx="36" ry="24"/><text y="6">-&gt;</text></g>
<g id="hq" class="r" transform="translate(5261,509.3)"><ellipse rx="59.3" ry="24"/><text y="6">rule: expr</text></g>
<g id="ij" class="t" transform="translate(5466,509.3)"><ellipse rx="56.6" ry="24"/><text y="6">vertices2</text></g>
<g id="ik" class="t" transform="translate(5643.9,509.3)"><ellipse rx="36" ry="24"/><text y="6">(</text></g>
<g id="il" class="r" transform="translate(5762.5,509.3)"><ellipse rx="59.3" ry="24"/><text y="6">rule: expr</text></g>
<g id="im" class="t" transform="translate(5880.4,509.3)"><ellipse rx="36" ry="24"/><text y="6">)</text></g>
<g id="in" class="t" transform="translate(6033.4,509.3)"><ellipse rx="36" ry="24"/><text y="6">\</text></g>
<g id="io" class="r" transform="translate(6163.5,509.3)"><ellipse rx="70.5" ry="24"/><text y="6">rule: pattern</text></g>
<g id="ip" class="t" transform="translate(6294.4,509.3)"><ellipse rx="36" ry="24"/><text y="6">-&gt;</text></g>
<g id="iq" class="r" transform="translate(6413,509.3)"><ellipse rx="59.3" ry="24"/><text y="6">rule: expr</text></g>
<g id="ji" class="t" transform="translate(6547.5,509.3)"><ellipse rx="50.5" ry="24"/><text y="6">vertices</text></g>
<g id="jj" class="r" transform="translate(6696.9,509.3)"><ellipse rx="52.8" ry="24"/><text y="6">rule: var</text></g>
<g id="jk" class="r" transform="translate(6906.5,509.3)"><ellipse rx="52.8" ry="24"/><text y="6">rule: var</text></g>
<g id="p2d" class="t" transform="translate(7042.6,509.3)"><ellipse rx="50.5" ry="24"/><text y="6">vertices</text></g>
<g id="b17" class="t" transform="translate(507.4,605.3)"><ellipse rx="36" ry="24"/><text y="6">set</text></g>
<g id="b18" class="t" transform="translate(606.9,605.3)"><ellipse rx="39.4" ry="24"/><text y="6">finals</text></g>
<g id="b19" class="t" transform="translate(707.1,605.3)"><ellipse rx="36" ry="24"/><text y="6">of</text></g>
<g id="b20" class="r" transform="translate(825.8,605.3)"><ellipse rx="59.3" ry="24"/><text y="6">rule: expr</text></g>
<g id="b21" class="t" transform="translate(945.1,605.3)"><ellipse rx="36" ry="24"/><text y="6">as</text></g>
<g id="b22" class="r" transform="translate(1063.8,605.3)"><ellipse rx="59.3" ry="24"/><text y="6">rule: expr</text></g>
<g id="b23" class="r" transform="translate(1360.2,605.3)"><ellipse rx="64.3" ry="24"/><text y="6">rule: intSet</text></g>
<g id="c12x" class="t" transform="translate(1485.7,605.3)"><ellipse rx="36" ry="24"/><text y="6">l1</text></g>
<g id="c13x" class="t" transform="translate(1716,605.3)"><ellipse rx="36" ry="24"/><text y="6">l2</text></g>
<g id="d12" class="r" transform="translate(1959.4,605.3)"><ellipse rx="59.3" ry="24"/><text y="6">rule: expr</text></g>
<g id="d13" class="t" transform="translate(2078,605.3)"><ellipse rx="36" ry="24"/><text y="6">|</text></g>
<g id="d14" class="r" transform="translate(2196.7,605.3)"><ellipse rx="59.3" ry="24"/><text y="6">rule: expr</text></g>
<g id="e12" class="t" transform="translate(2460.2,605.3)"><ellipse rx="79" ry="24"/><text y="6">sub_class_of</text></g>
<g id="e13" class="t" transform="translate(2697.4,605.3)"><ellipse rx="36" ry="24"/><text y="6">l1</text></g>
<g id="f12" class="t" transform="translate(2969.1,605.3)"><ellipse rx="36" ry="24"/><text y="6">g</text></g>
<g id="f13" class="t" transform="translate(3206.4,605.3)"><ellipse rx="36" ry="24"/><text y="6">q1</text></g>
<g id="g12" class="t" transform="translate(3478.3,605.3)"><ellipse rx="36" ry="24"/><text y="6">g</text></g>
<g id="g13" class="t" transform="translate(3715.6,605.3)"><ellipse rx="36" ry="24"/><text y="6">q2</text></g>
<g id="h9k" class="t" transform="translate(4216,605.3)"><ellipse rx="36" ry="24"/><text y="6">g</text></g>
<g id="hr" class="t" transform="translate(4310.2,605.3)"><ellipse rx="36" ry="24"/><text y="6">map</text></g>
<g id="hs" class="r" transform="translate(4430.3,605.3)"><ellipse rx="59.3" ry="24"/><text y="6">rule: expr</text></g>
<g id="ht" class="t" transform="translate(4601.3,605.3)"><ellipse rx="36" ry="24"/><text y="6">with</text></g>
<g id="hu" class="r" transform="translate(4735.2,605.3)"><ellipse rx="71" ry="24"/><text y="6">rule: lambda</text></g>
<g id="hv" class="r" transform="translate(5008.4,605.3)"><ellipse rx="52.8" ry="24"/><text y="6">rule: var</text></g>
<g id="hw" class="r" transform="translate(5144.6,605.3)"><ellipse rx="59.3" ry="24"/><text y="6">rule: expr</text></g>
<g id="hx" class="t" transform="translate(5263.3,605.3)"><ellipse rx="36" ry="24"/><text y="6">in</text></g>
<g id="hy" class="r" transform="translate(5381.9,605.3)"><ellipse rx="59.3" ry="24"/><text y="6">rule: expr</text></g>
<g id="ir" class="t" transform="translate(5571.2,605.3)"><ellipse rx="36" ry="24"/><text y="6">map</text></g>
<g id="is" class="r" transform="translate(5689.8,605.3)"><ellipse rx="59.3" ry="24"/><text y="6">rule: expr</text></g>
<g id="it" class="t" transform="translate(5808.4,605.3)"><ellipse rx="36" ry="24"/><text y="6">with</text></g>
<g id="iu" class="r" transform="translate(6014.3,605.3)"><ellipse rx="71" ry="24"/><text y="6">rule: lambda</text></g>
<g id="iv" class="r" transform="translate(6173.5,605.3)"><ellipse rx="52.8" ry="24"/><text y="6">rule: var</text></g>
<g id="iw" class="r" transform="translate(6341.8,605.3)"><ellipse rx="59.3" ry="24"/><text y="6">rule: expr</text></g>
<g id="ix" class="t" transform="translate(6459.3,605.3)"><ellipse rx="36" ry="24"/><text y="6">in</text></g>
<g id="iy" class="r" transform="translate(6578.8,605.3)"><ellipse rx="59.3" ry="24"/><text y="6">rule: expr</text></g>
<g id="jl" class="t" transform="translate(6718.4,605.3)"><ellipse rx="56.6" ry="24"/><text y="6">vertices1</text></g>
<g id="jm" class="t" transform="translate(6906.5,605.3)"><ellipse rx="56.6" ry="24"/><text y="6">vertices2</text></g>
<g id="b24" class="r" transform="translate(815,701.3)"><ellipse rx="52.8" ry="24"/><text y="6">rule: var</text></g>
<g id="b25" class="t" transform="translate(932.1,701.3)"><ellipse rx="36" ry="24"/><text y="6">(</text></g>
<g id="b26" class="r" transform="translate(1050.7,701.3)"><ellipse rx="59.3" ry="24"/><text y="6">rule: expr</text></g>
<g id="b27" class="t" transform="translate(1168.6,701.3)"><ellipse rx="36" ry="24"/><text y="6">)</text></g>
<g id="b28" class="t" transform="translate(1265.3,701.3)"><ellipse rx="36" ry="24"/><text y="6">{</text></g>
<g id="b29" class="t" transform="translate(1361,701.3)"><ellipse rx="36" ry="24"/><text y="6">0</text></g>
<g id="b30" class="t" transform="translate(1457.4,701.3)"><ellipse rx="36" ry="24"/><text y="6">..</text></g>
<g id="b31" class="t" transform="translate(1552.3,701.3)"><ellipse rx="36" ry="24"/><text y="6">100</text></g>
<g id="b32" class="t" transform="translate(1648.7,701.3)"><ellipse rx="36" ry="24"/><text y="6">}</text></g>
<g id="d15" class="r" transform="translate(1959.4,701.3)"><ellipse rx="50.5" ry="24"/><text y="6">rule: val</text></g>
<g id="d16" class="r" transform="translate(2196.7,701.3)"><ellipse rx="52.8" ry="24"/><text y="6">rule: var</text></g>
<g id="hz" class="t" transform="translate(3896.9,701.3)"><ellipse rx="36" ry="24"/><text y="6">(</text></g>
<g id="h1" class="r" transform="translate(4015.5,701.3)"><ellipse rx="59.3" ry="24"/><text y="6">rule: expr</text></g>
<g id="h2" class="t" transform="translate(4421.2,701.3)"><ellipse rx="36" ry="24"/><text y="6">)</text></g>
<g id="h3" class="t" transform="translate(4518.6,701.3)"><ellipse rx="36" ry="24"/><text y="6">\</text></g>
<g id="h4" class="r" transform="translate(4647.2,701.3)"><ellipse rx="70.5" ry="24"/><text y="6">rule: pattern</text></g>
<g id="h5" class="t" transform="translate(4779.6,701.3)"><ellipse rx="36" ry="24"/><text y="6">-&gt;</text></g>
<g id="h6" class="r" transform="translate(4897.4,701.3)"><ellipse rx="59.3" ry="24"/><text y="6">rule: expr</text></g>
<g id="h7" class="t" transform="translate(5017.6,701.3)"><ellipse rx="36" ry="24"/><text y="6">v</text></g>
<g id="h8" class="r" transform="translate(5144.6,701.3)"><ellipse rx="52.8" ry="24"/><text y="6">rule: var</text></g>
<g id="h9x" class="r" transform="translate(5310.7,701.3)"><ellipse rx="52.8" ry="24"/><text y="6">rule: var</text></g>
<g id="iz" class="t" transform="translate(5459.9,701.3)"><ellipse rx="36" ry="24"/><text y="6">(</text></g>
<g id="i1" class="r" transform="translate(5578.8,701.3)"><ellipse rx="59.3" ry="24"/><text y="6">rule: expr</text></g>
<g id="i2" class="t" transform="translate(5695.9,701.3)"><ellipse rx="36" ry="24"/><text y="6">)</text></g>
<g id="i3" class="t" transform="translate(5882.6,701.3)"><ellipse rx="36" ry="24"/><text y="6">\</text></g>
<g id="i4" class="r" transform="translate(6014.3,701.3)"><ellipse rx="70.5" ry="24"/><text y="6">rule: pattern</text></g>
<g id="i5" class="t" transform="translate(6145.1,701.3)"><ellipse rx="36" ry="24"/><text y="6">-&gt;</text></g>
<g id="i6" class="r" transform="translate(6263.8,701.3)"><ellipse rx="59.3" ry="24"/><text y="6">rule: expr</text></g>
<g id="i7" class="t" transform="translate(6382.4,701.3)"><ellipse rx="36" ry="24"/><text y="6">v</text></g>
<g id="i8" class="r" transform="translate(6612.5,701.3)"><ellipse rx="52.8" ry="24"/><text y="6">rule: var</text></g>
<g id="i9" class="r" transform="translate(6800.8,701.3)"><ellipse rx="52.8" ry="24"/><text y="6">rule: var</text></g>
<g id="b33" class="t" transform="translate(799.7,797.3)"><ellipse rx="36" ry="24"/><text y="6">g'</text></g>
<g id="b34" class="t" transform="translate(931.4,797.3)"><ellipse rx="70.8" ry="24"/><text y="6">get_vertices</text></g>
<g id="b35" class="t" transform="translate(1063.8,797.3)"><ellipse rx="36" ry="24"/><text y="6">of</text></g>
<g id="b36" class="r" transform="translate(1182.5,797.3)"><ellipse rx="59.3" ry="24"/><text y="6">rule: expr</text></g>
<g id="d17" class="t" transform="translate(1959.4,797.3)"><ellipse rx="36" ry="24"/><text y="6">type</text></g>
<g id="d18" class="t" transform="translate(2196.7,797.3)"><ellipse rx="36" ry="24"/><text y="6">l1</text></g>
<g id="h10" class="t" transform="translate(3774.5,797.3)"><ellipse rx="62.8" ry="24"/><text y="6">get_edges</text></g>
<g id="h11" class="t" transform="translate(3896.9,797.3)"><ellipse rx="36" ry="24"/><text y="6">of</text></g>
<g id="h12" class="r" transform="translate(4015.5,797.3)"><ellipse rx="59.3" ry="24"/><text y="6">rule: expr</text></g>
<g id="h13" class="t" transform="translate(4134.2,797.3)"><ellipse rx="36" ry="24"/><text y="6">[</text></g>
<g id="h14" class="r" transform="translate(4264.3,797.3)"><ellipse rx="70.5" ry="24"/><text y="6">rule: pattern</text></g>
<g id="h15" class="t" transform="translate(4395.9,797.3)"><ellipse rx="36" ry="24"/><text y="6">,</text></g>
<g id="h16" class="r" transform="translate(4526.3,797.3)"><ellipse rx="70.5" ry="24"/><text y="6">rule: pattern</text></g>
<g id="h17" class="t" transform="translate(4657.1,797.3)"><ellipse rx="36" ry="24"/><text y="6">,</text></g>
<g id="h18" class="r" transform="translate(4788,797.3)"><ellipse rx="70.5" ry="24"/><text y="6">rule: pattern</text></g>
<g id="h19" class="t" transform="translate(4918.1,797.3)"><ellipse rx="36" ry="24"/><text y="6">]</text></g>
<g id="h20" class="r" transform="translate(5031.4,797.3)"><ellipse rx="52.8" ry="24"/><text y="6">rule: var</text></g>
<g id="h21" class="t" transform="translate(5144.6,797.3)"><ellipse rx="36" ry="24"/><text y="6">v</text></g>
<g id="h22" class="t" transform="translate(5240.3,797.3)"><ellipse rx="36" ry="24"/><text y="6">s</text></g>
<g id="i10" class="t" transform="translate(5362.7,797.3)"><ellipse rx="62.8" ry="24"/><text y="6">get_edges</text></g>
<g id="i11" class="t" transform="translate(5486.7,797.3)"><ellipse rx="36" ry="24"/><text y="6">of</text></g>
<g id="i12" class="r" transform="translate(5604.8,797.3)"><ellipse rx="59.3" ry="24"/><text y="6">rule: expr</text></g>
<g id="i13" class="t" transform="translate(5723.5,797.3)"><ellipse rx="36" ry="24"/><text y="6">[</text></g>
<g id="i14" class="r" transform="translate(5853.6,797.3)"><ellipse rx="70.5" ry="24"/><text y="6">rule: pattern</text></g>
<g id="i15" class="t" transform="translate(5984.4,797.3)"><ellipse rx="36" ry="24"/><text y="6">,</text></g>
<g id="i16" class="r" transform="translate(6116.1,797.3)"><ellipse rx="70.5" ry="24"/><text y="6">rule: pattern</text></g>
<g id="i17" class="t" transform="translate(6246.2,797.3)"><ellipse rx="36" ry="24"/><text y="6">,</text></g>
<g id="i18" class="r" transform="translate(6374.7,797.3)"><ellipse rx="70.5" ry="24"/><text y="6">rule: pattern</text></g>
<g id="i19" class="t" transform="translate(6507.9,797.3)"><ellipse rx="36" ry="24"/><text y="6">]</text></g>
<g id="i20" class="r" transform="translate(6620.4,797.3)"><ellipse rx="52.8" ry="24"/><text y="6">rule: var</text></g>
<g id="i21" class="t" transform="translate(6734.5,797.3)"><ellipse rx="36" ry="24"/><text y="6">v</text></g>
<g id="i22" class="t" transform="translate(6830.8,797.3)"><ellipse rx="36" ry="24"/><text y="6">s</text></g>
<g id="b37" class="r" transform="translate(1182.5,893.3)"><ellipse rx="52.8" ry="24"/><text y="6">rule: var</text></g>
<g id="h23" class="r" transform="translate(3774.5,893.3)"><ellipse rx="52.8" ry="24"/><text y="6">rule: var</text></g>
<g id="h24" class="t" transform="translate(3887.7,893.3)"><ellipse rx="36" ry="24"/><text y="6">[</text></g>
<g id="h25" class="r" transform="translate(4017.8,893.3)"><ellipse rx="70.5" ry="24"/><text y="6">rule: pattern</text></g>
<g id="h26" class="t" transform="translate(4149.5,893.3)"><ellipse rx="36" ry="24"/><text y="6">,</text></g>
<g id="h27" class="r" transform="translate(4279.6,893.3)"><ellipse rx="70.5" ry="24"/><text y="6">rule: pattern</text></g>
<g id="h28" class="t" transform="translate(4409.7,893.3)"><ellipse rx="36" ry="24"/><text y="6">]</text></g>
<g id="h29" class="r" transform="translate(4522.4,893.3)"><ellipse rx="52.8" ry="24"/><text y="6">rule: var</text></g>
<g id="h30" class="t" transform="translate(4637.2,893.3)"><ellipse rx="36" ry="24"/><text y="6">[</text></g>
<g id="h31" class="r" transform="translate(4767.3,893.3)"><ellipse rx="70.5" ry="24"/><text y="6">rule: pattern</text></g>
<g id="h32" class="t" transform="translate(4897.4,893.3)"><ellipse rx="36" ry="24"/><text y="6">,</text></g>
<g id="h33" class="r" transform="translate(5029.1,893.3)"><ellipse rx="70.5" ry="24"/><text y="6">rule: pattern</text></g>
<g id="h34" class="t" transform="translate(5159.2,893.3)"><ellipse rx="36" ry="24"/><text y="6">]</text></g>
<g id="h35" class="t" transform="translate(5255.6,893.3)"><ellipse rx="36" ry="24"/><text y="6">u_g</text></g>
<g id="i23" class="r" transform="translate(5368.1,893.3)"><ellipse rx="52.8" ry="24"/><text y="6">rule: var</text></g>
<g id="i24" class="t" transform="translate(5481.4,893.3)"><ellipse rx="36" ry="24"/><text y="6">[</text></g>
<g id="i25" class="r" transform="translate(5613.3,893.3)"><ellipse rx="70.5" ry="24"/><text y="6">rule: pattern</text></g>
<g id="i26" class="t" transform="translate(5743.4,893.3)"><ellipse rx="36" ry="24"/><text y="6">,</text></g>
<g id="i27" class="r" transform="translate(5874.2,893.3)"><ellipse rx="70.5" ry="24"/><text y="6">rule: pattern</text></g>
<g id="i28" class="t" transform="translate(6005.1,893.3)"><ellipse rx="36" ry="24"/><text y="6">]</text></g>
<g id="i29" class="r" transform="translate(6116.1,893.3)"><ellipse rx="52.8" ry="24"/><text y="6">rule: var</text></g>
<g id="i30" class="t" transform="translate(6232.4,893.3)"><ellipse rx="36" ry="24"/><text y="6">[</text></g>
<g id="i31" class="r" transform="translate(6362.5,893.3)"><ellipse rx="70.5" ry="24"/><text y="6">rule: pattern</text></g>
<g id="i32" class="t" transform="translate(6492.6,893.3)"><ellipse rx="36" ry="24"/><text y="6">,</text></g>
<g id="i33" class="r" transform="translate(6623.7,893.3)"><ellipse rx="70.5" ry="24"/><text y="6">rule: pattern</text></g>
<g id="i34" class="t" transform="translate(6753.8,893.3)"><ellipse rx="36" ry="24"/><text y="6">]</text></g>
<g id="i35" class="t" transform="translate(6851,893.3)"><ellipse rx="36" ry="24"/><text y="6">u_g</text></g>
<g id="b38" class="t" transform="translate(1182.5,989.3)"><ellipse rx="36" ry="24"/><text y="6">g'</text></g>
<g id="h36" class="t" transform="translate(3774.5,989.3)"><ellipse rx="36" ry="24"/><text y="6">res1</text></g>
<g id="h37" class="r" transform="translate(4017.8,989.3)"><ellipse rx="52.8" ry="24"/><text y="6">rule: var</text></g>
<g id="h38" class="r" transform="translate(4279.6,989.3)"><ellipse rx="52.8" ry="24"/><text y="6">rule: var</text></g>
<g id="h39" class="t" transform="translate(4522.4,989.3)"><ellipse rx="36" ry="24"/><text y="6">l</text></g>
<g id="h40" class="r" transform="translate(4767.3,989.3)"><ellipse rx="52.8" ry="24"/><text y="6">rule: var</text></g>
<g id="h41" class="r" transform="translate(5029.1,989.3)"><ellipse rx="52.8" ry="24"/><text y="6">rule: var</text></g>
<g id="i36" class="t" transform="translate(5368.1,989.3)"><ellipse rx="36" ry="24"/><text y="6">res2</text></g>
<g id="i37" class="r" transform="translate(5613.3,989.3)"><ellipse rx="52.8" ry="24"/><text y="6">rule: var</text></g>
<g id="i38" class="r" transform="translate(5874.2,989.3)"><ellipse rx="52.8" ry="24"/><text y="6">rule: var</text></g>
<g id="i39" class="t" transform="translate(6117,989.3)"><ellipse rx="36" ry="24"/><text y="6">l</text></g>
<g id="i40" class="r" transform="translate(6362.5,989.3)"><ellipse rx="52.8" ry="24"/><text y="6">rule: var</text></g>
<g id="i41" class="r" transform="translate(6623.7,989.3)"><ellipse rx="52.8" ry="24"/><text y="6">rule: var</text></g>
<g id="h42" class="t" transform="translate(4017.8,1085.3)"><ellipse rx="36" ry="24"/><text y="6">u_g</text></g>
<g id="h43" class="t" transform="translate(4279.6,1085.3)"><ellipse rx="36" ry="24"/><text y="6">u_q1</text></g>
<g id="h44" class="t" transform="translate(4767.3,1085.3)"><ellipse rx="36" ry="24"/><text y="6">v_g</text></g>
<g id="h45" class="t" transform="translate(5029.1,1085.3)"><ellipse rx="36" ry="24"/><text y="6">v_q1</text></g>
<g id="i42" class="t" transform="translate(5613.3,1085.3)"><ellipse rx="36" ry="24"/><text y="6">u_g</text></g>
<g id="i43" class="t" transform="translate(5874.2,1085.3)"><ellipse rx="36" ry="24"/><text y="6">u_q2</text></g>
<g id="i44" class="t" transform="translate(6362.5,1085.3)"><ellipse rx="36" ry="24"/><text y="6">v_g</text></g>
<g id="i45" class="t" transform="translate(6623.7,1085.3)"><ellipse rx="36" ry="24"/><text y="6">v_q2</text></g>
</svg>
